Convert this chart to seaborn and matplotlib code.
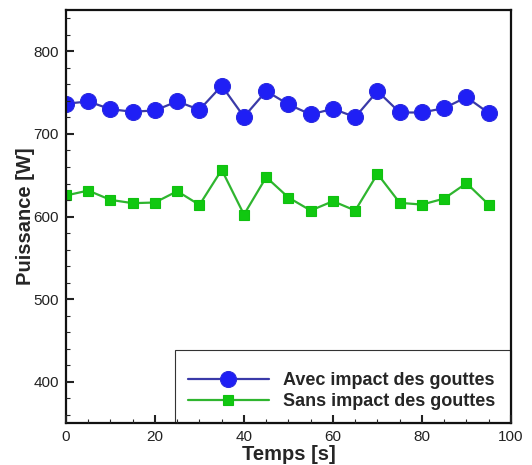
import matplotlib
matplotlib.use("Agg")
import matplotlib.pyplot as plt
from matplotlib.ticker import MultipleLocator
import seaborn as sns
import pandas as pd

temps = [0, 5, 10, 15, 20, 25, 30, 35, 40, 45, 50, 55, 60, 65, 70, 75, 80, 85, 90, 95]
avec = [736.6, 739.4, 730.0, 726.9, 728.5, 739.4, 729.3, 758.4, 720.8, 751.9,
        735.8, 723.6, 730.5, 720.4, 751.9, 726.0, 726.0, 731.3, 744.6, 725.3]
sans = [625.5, 631.5, 620.2, 616.2, 617.0, 630.7, 614.1, 656.6, 602.4, 647.7,
        623.0, 607.3, 618.6, 607.3, 651.7, 616.6, 614.5, 621.8, 640.4, 614.5]
labels = ["Avec impact des gouttes", "Sans impact des gouttes"]

sns.set_style("white")
plt.rcParams['font.family'] = ['Liberation Sans', 'DejaVu Sans']
plt.rcParams['axes.axisbelow'] = False

fig = plt.figure(figsize=(5.32, 4.65), dpi=100)
ax = fig.add_axes([0.124, 0.0903, 0.8365, 0.888])
ax.patch.set_alpha(0)

df1 = pd.DataFrame({"t": temps, "p": avec})
df2 = pd.DataFrame({"t": temps, "p": sans})
sns.lineplot(data=df1, x="t", y="p", ax=ax, color="#3a3aa8", lw=1.6,
             marker="o", markersize=11.5, markerfacecolor="#1f1ff5",
             markeredgecolor="#2a2ae0", markeredgewidth=0.8, label=labels[0])
sns.lineplot(data=df2, x="t", y="p", ax=ax, color="#2fb52f", lw=1.6,
             marker="s", markersize=7.5, markerfacecolor="#10c810",
             markeredgecolor="#10c010", markeredgewidth=0.8, label=labels[1])

ax.set_xlim(0, 100)
ax.set_ylim(350, 850)
ax.xaxis.set_major_locator(MultipleLocator(20))
ax.xaxis.set_minor_locator(MultipleLocator(5))
ax.yaxis.set_major_locator(MultipleLocator(100))
ax.yaxis.set_minor_locator(MultipleLocator(20))
ax.tick_params(which="major", direction="in", length=6, width=1.5, labelsize=11,
               pad=5, colors="#222222")
ax.tick_params(which="minor", direction="in", length=3, width=0.8)
ax.tick_params(which="both", top=False, right=False, bottom=True, left=True)
for s in ax.spines.values():
    s.set_linewidth(1.6)
    s.set_color("#111111")

ax.set_xlabel("Temps [s]", fontsize=14.5, fontweight="bold", labelpad=1)
ax.set_ylabel("Puissance [W]", fontsize=14.5, fontweight="bold", labelpad=-1)

handles, labs = ax.get_legend_handles_labels()
if ax.get_legend() is not None:
    ax.get_legend().remove()
leg = fig.legend(handles, labs, loc="lower left",
                 bbox_to_anchor=(0.245, 0, 0.755, 0.174),
                 bbox_transform=ax.transAxes,
                 mode="expand", borderaxespad=0,
                 prop={"weight": "bold", "size": 13}, handlelength=4.5,
                 handletextpad=0.8, title=" ", title_fontsize=4,
                 fancybox=False, frameon=True, labelspacing=0.25,
                 borderpad=0.7)
frame = leg.get_frame()
frame.set_edgecolor("#333333")
frame.set_linewidth(0.8)
frame.set_facecolor("white")
frame.set_alpha(1)
leg.set_zorder(-1)

fig.savefig("out.png", dpi=100)
